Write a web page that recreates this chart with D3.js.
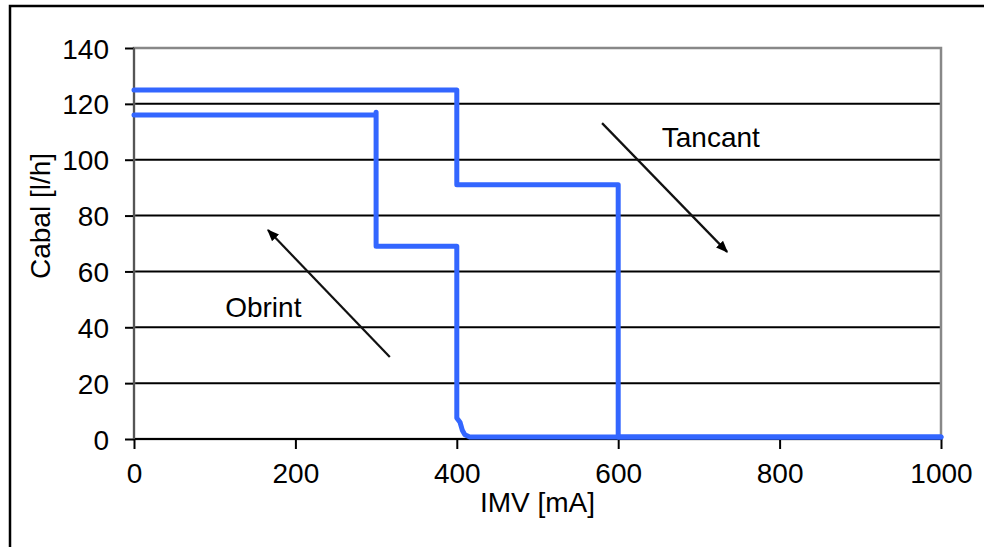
<!DOCTYPE html>
<html>
<head>
<meta charset="utf-8">
<script src="https://cdn.jsdelivr.net/npm/d3@7"></script>
<style>
  html, body { margin: 0; padding: 0; background: #fff; }
  svg { display: block; font-family: "Liberation Sans", Arial, sans-serif; }
</style>
</head>
<body>
<svg id="chart" width="984" height="547"></svg>
<script>
// Flow rate vs. valve current, opening and closing curves
const xTicks = [0, 200, 400, 600, 800, 1000];
const yTicks = [0, 20, 40, 60, 80, 100, 120, 140];

// Opening ("Obrint") curve: [IMV mA, Cabal l/h]
const obrintX = [0, 300, 300, 300, 400, 400, 404, 407, 410, 416, 1000];
const obrintY = [116, 116, 117, 69, 69, 7.5, 6, 3, 1.5, 0.7, 0.7];

// Closing ("Tancant") curve
const tancantX = [0, 400, 400, 600, 600, 1000];
const tancantY = [125, 125, 91, 91, 0.7, 0.7];

// Annotation arrows, [x0, y0, x1, y1] in data units (tail → head)
const obrintArrow = [317, 29.4, 166, 74.8];
const tancantArrow = [580, 113.1, 735, 67];
const labels = [
  { text: "Obrint", x: 113, y: 43.7 },
  { text: "Tancant", x: 654, y: 104.5 }
];

const svg = d3.select("#chart");
const m = { left: 134, right: 941, top: 48, bottom: 439 };

const x = d3.scaleLinear().domain([0, 1000]).range([m.left, m.right]);
const y = d3.scaleLinear().domain([0, 140]).range([m.bottom, m.top]);

// Outer frame (left and top edges)
svg.append("path")
  .attr("d", `M10,547 V6 H984`)
  .attr("fill", "none").attr("stroke", "#000").attr("stroke-width", 2.5);

// Horizontal gridlines
svg.append("g").selectAll("line")
  .data(yTicks.filter(d => d > 0 && d < 140))
  .join("line")
  .attr("x1", m.left).attr("x2", m.right)
  .attr("y1", d => y(d)).attr("y2", d => y(d))
  .attr("stroke", "#000").attr("stroke-width", 2);

// Plot area border
svg.append("rect")
  .attr("x", m.left).attr("y", m.top)
  .attr("width", m.right - m.left).attr("height", m.bottom - m.top)
  .attr("fill", "none").attr("stroke", "#888").attr("stroke-width", 2.5);

// Axes
const yAxis = d3.axisLeft(y).tickValues(yTicks).tickFormat(d3.format("d"))
  .tickSize(9).tickPadding(16);
const xAxis = d3.axisBottom(x).tickValues(xTicks).tickFormat(d3.format("d"))
  .tickSize(10).tickPadding(14);

const gy = svg.append("g").attr("transform", `translate(${m.left},0)`).call(yAxis);
const gx = svg.append("g").attr("transform", `translate(0,${m.bottom})`).call(xAxis);

[gx, gy].forEach(g => {
  g.select(".domain").remove();
  g.selectAll(".tick line").attr("stroke", "#000").attr("stroke-width", 2);
  g.selectAll(".tick text")
    .attr("fill", "#000")
    .style("font-size", "28px")
    .style("font-family", "'Liberation Sans', Arial, sans-serif");
});
gy.selectAll(".tick text").attr("dy", "0.36em");

// Bottom axis line
svg.append("line")
  .attr("x1", m.left).attr("x2", m.right)
  .attr("y1", m.bottom).attr("y2", m.bottom)
  .attr("stroke", "#000").attr("stroke-width", 2);
// Left axis line
svg.append("line")
  .attr("x1", m.left).attr("x2", m.left)
  .attr("y1", m.top).attr("y2", m.bottom)
  .attr("stroke", "#555").attr("stroke-width", 2);

// Axis titles
svg.append("text")
  .attr("x", (m.left + m.right) / 2).attr("y", 512)
  .attr("text-anchor", "middle")
  .style("font-size", "28px").text("IMV [mA]");
svg.append("text")
  .attr("transform", "translate(50,216) rotate(-90)")
  .attr("text-anchor", "middle")
  .style("font-size", "28px").text("Cabal [l/h]");

// Curves
const line = d3.line().x(d => x(d[0])).y(d => y(d[1]));
[[obrintX, obrintY], [tancantX, tancantY]].forEach(([xs, ys]) => {
  svg.append("path")
    .datum(xs.map((v, i) => [v, ys[i]]))
    .attr("d", line)
    .attr("fill", "none")
    .attr("stroke", "#3366ff")
    .attr("stroke-width", 5)
    .attr("stroke-linejoin", "round")
    .attr("stroke-linecap", "round");
});

// Arrow marker
svg.append("defs").append("marker")
  .attr("id", "arrowhead")
  .attr("viewBox", "0 0 10 10")
  .attr("refX", 9).attr("refY", 5)
  .attr("markerWidth", 5.5).attr("markerHeight", 5.5)
  .attr("markerUnits", "strokeWidth")
  .attr("orient", "auto")
  .append("path").attr("d", "M0,1 L10,5 L0,9 Z").attr("fill", "#000");

[obrintArrow, tancantArrow].forEach(a => {
  svg.append("line")
    .attr("x1", x(a[0])).attr("y1", y(a[1]))
    .attr("x2", x(a[2])).attr("y2", y(a[3]))
    .attr("stroke", "#111").attr("stroke-width", 2.2)
    .attr("marker-end", "url(#arrowhead)");
});

svg.append("g").selectAll("text")
  .data(labels)
  .join("text")
  .attr("x", d => x(d.x)).attr("y", d => y(d.y))
  .style("font-size", "28px")
  .text(d => d.text);
</script>
</body>
</html>
